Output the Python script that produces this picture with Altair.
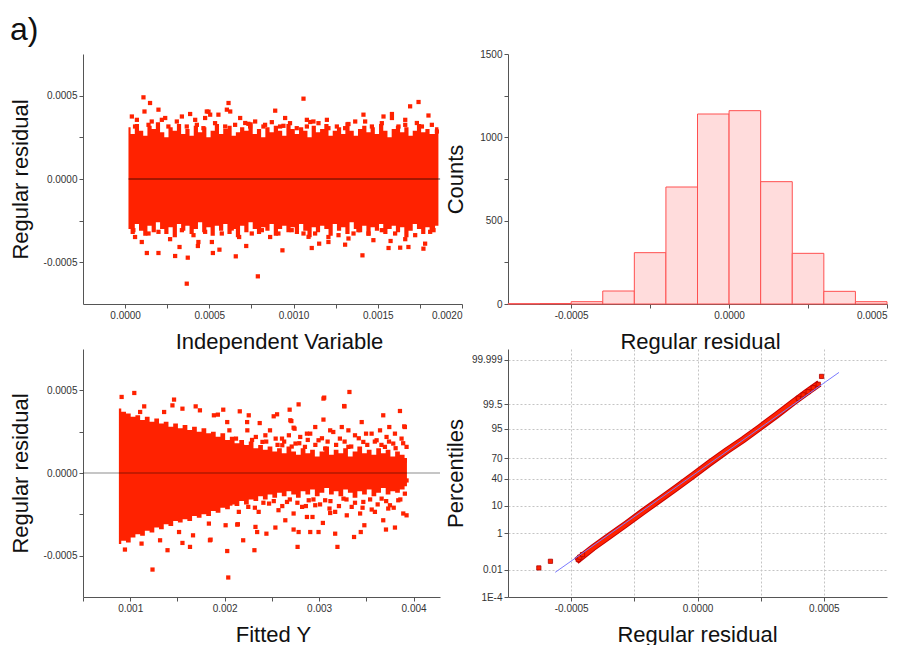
import altair as alt
import pandas as pd

RED = "#ff2200"
FONT = "Liberation Sans"

# ---------------- panel 1: residual vs independent variable ----------------
tl_core_x = [0.000020, 0.000045, 0.000070, 0.000095, 0.000120, 0.000145, 0.000170, 0.000195, 0.000220, 0.000245,
             0.000270, 0.000295, 0.000320, 0.000345, 0.000370, 0.000395, 0.000420, 0.000445, 0.000470, 0.000495,
             0.000520, 0.000545, 0.000570, 0.000595, 0.000620, 0.000645, 0.000670, 0.000695, 0.000720, 0.000745,
             0.000770, 0.000795, 0.000820, 0.000845, 0.000870, 0.000895, 0.000920, 0.000945, 0.000970, 0.000995,
             0.001020, 0.001045, 0.001070, 0.001095, 0.001120, 0.001145, 0.001170, 0.001195, 0.001220, 0.001245,
             0.001270, 0.001295, 0.001320, 0.001345, 0.001370, 0.001395, 0.001420, 0.001445, 0.001470, 0.001495,
             0.001520, 0.001545, 0.001570, 0.001595, 0.001620, 0.001645, 0.001670, 0.001695, 0.001720, 0.001745,
             0.001770, 0.001795, 0.001820, 0.001860]
tl_core_hi = [0.00031, 0.00027, 0.00033, 0.00029, 0.00026, 0.00032, 0.0003, 0.00034, 0.00028, 0.00025,
              0.00031, 0.00029, 0.00033, 0.00027, 0.0003, 0.00026, 0.00032, 0.00028, 0.00031, 0.00025,
              0.00029, 0.00033, 0.00027, 0.0003, 0.00032, 0.00026, 0.00028, 0.00031, 0.00029, 0.00034,
              0.00027, 0.0003, 0.00025, 0.00031, 0.00028, 0.00032, 0.00029, 0.00026, 0.00033, 0.0003,
              0.00027, 0.00031, 0.00029, 0.00025, 0.00032, 0.00028, 0.0003, 0.00033, 0.00026, 0.00029,
              0.00031, 0.00027, 0.00034, 0.00029, 0.00026, 0.0003, 0.00032, 0.00028, 0.00031, 0.00027,
              0.00033, 0.00029, 0.00025, 0.0003, 0.00032, 0.00028, 0.00031, 0.00026, 0.00029, 0.00033,
              0.00028, 0.0003, 0.00027, 0.00031]
tl_core_lo = [-0.0003, -0.00033, -0.00027, -0.00031, -0.00034, -0.00028, -0.00032, -0.00026, -0.0003, -0.00033,
              -0.00029, -0.00035, -0.00027, -0.00031, -0.00028, -0.00033, -0.0003, -0.00026, -0.00032, -0.00029,
              -0.00034, -0.00028, -0.00031, -0.00027, -0.00033, -0.0003, -0.00035, -0.00028, -0.00032, -0.00026,
              -0.0003, -0.00033, -0.00029, -0.00031, -0.00027, -0.00034, -0.0003, -0.00028, -0.00032, -0.00029,
              -0.00033, -0.00027, -0.00031, -0.00035, -0.00029, -0.00032, -0.00028, -0.0003, -0.00034, -0.00027,
              -0.00031, -0.00029, -0.00033, -0.00026, -0.0003, -0.00032, -0.00028, -0.00034, -0.00029, -0.00031,
              -0.00027, -0.00033, -0.0003, -0.00028, -0.00032, -0.00029, -0.00035, -0.00031, -0.00027, -0.0003,
              -0.00033, -0.00029, -0.00031, -0.00028]
tl_upper_pts = [
    (0.000109, 0.00049), (0.000148, 0.000456), (0.000115, 0.000405), (0.000198, 0.000416), (0.00004, 0.000375),
    (0.00007, 0.000355), (0.000139, 0.000325), (0.000238, 0.000366), (0.000337, 0.000375), (0.000386, 0.00039),
    (0.000416, 0.000355), (0.000485, 0.000405), (0.000505, 0.000386), (0.000475, 0.000366), (0.000614, 0.000456),
    (0.000604, 0.000416), (0.000554, 0.000386), (0.000624, 0.000405), (0.000683, 0.000366), (0.000713, 0.000336),
    (0.000891, 0.00041), (0.00095, 0.000366), (0.001059, 0.000482), (0.001099, 0.000342), (0.001198, 0.000355),
    (0.001326, 0.00033), (0.001415, 0.000386), (0.001534, 0.000375), (0.001584, 0.00039), (0.001584, 0.000366),
    (0.001663, 0.000355), (0.001692, 0.000436), (0.001742, 0.000462), (0.001732, 0.000336), (0.001801, 0.000381),
    (0.001851, 0.000285), (0.001118, 0.000345), (0.000495, 0.000404), (0.000732, 0.000331), (0.000821, 0.000315),
    (0.00094, 0.000319), (0.001079, 0.000355),
    (0.000059, 0.000315), (0.000158, 0.000345), (0.000218, 0.000355), (0.000257, 0.000315), (0.000307, 0.000345),
    (0.000366, 0.000315), (0.000426, 0.000325), (0.000465, 0.000305), (0.000534, 0.000335), (0.000594, 0.000315),
    (0.000653, 0.000325), (0.000742, 0.000315), (0.000772, 0.000345), (0.000831, 0.000325), (0.000871, 0.000341),
    (0.00092, 0.000315), (0.000979, 0.000335), (0.001019, 0.000305), (0.001079, 0.000315), (0.001148, 0.000335),
    (0.001207, 0.000305), (0.001257, 0.000315), (0.001306, 0.000305), (0.001366, 0.000345), (0.001425, 0.000345),
    (0.001465, 0.000315), (0.001524, 0.000335), (0.001623, 0.000315), (0.001663, 0.000325), (0.001762, 0.000315),
    (0.001821, 0.000325)]
tl_lower_pts = [
    (0.000129, -0.000444), (0.000198, -0.000444), (0.000297, -0.000462), (0.000372, -0.000472), (0.000366, -0.000628),
    (0.000323, -0.000408), (0.000432, -0.000402), (0.000521, -0.000444), (0.00056, -0.000424), (0.000657, -0.000464),
    (0.000719, -0.000402), (0.000788, -0.000584), (0.000934, -0.000428), (0.001108, -0.000414), (0.001152, -0.000388),
    (0.001207, -0.000378), (0.001306, -0.000394), (0.001409, -0.000458), (0.001564, -0.000414), (0.001633, -0.000412),
    (0.001682, -0.000408), (0.001771, -0.000418), (0.001781, -0.000388), (0.001576, -0.000372), (0.001474, -0.000367),
    (0.001326, -0.000357), (0.000435, -0.000378), (0.000059, -0.000348), (0.000099, -0.000378), (0.000515, -0.000378),
    (0.000267, -0.000361), (0.001059, -0.000327), (0.001207, -0.000348), (0.001356, -0.000327), (0.001663, -0.000361),
    (0.001811, -0.000317), (0.000861, -0.000348), (0.000677, -0.000348),
    (0.000049, -0.000307), (0.000139, -0.000327), (0.000198, -0.000317), (0.000337, -0.000307), (0.000406, -0.000337),
    (0.000475, -0.000317), (0.000574, -0.000327), (0.000633, -0.000297), (0.000752, -0.000327), (0.000812, -0.000307),
    (0.00091, -0.000327), (0.000989, -0.000307), (0.001089, -0.000347), (0.001128, -0.000327), (0.001267, -0.000337),
    (0.001385, -0.000307), (0.001445, -0.000327), (0.001524, -0.000307), (0.001603, -0.000327), (0.001722, -0.000337),
    (0.001831, -0.000307)]
tl_zero_span = [0.00002, 0.00187]

# ---------------- panel 2: histogram of residuals ----------------
hist_start = [-0.0007, -0.0006, -0.0005, -0.0004, -0.0003, -0.0002, -0.0001, 0.0, 0.0001, 0.0002, 0.0003, 0.0004]
hist_end = [-0.0006, -0.0005, -0.0004, -0.0003, -0.0002, -0.0001, 0.0, 0.0001, 0.0002, 0.0003, 0.0004, 0.0005]
hist_count = [2, 3, 14, 78, 308, 702, 1140, 1160, 734, 304, 76, 14]

# ---------------- panel 3: residual vs fitted Y ----------------
bl_core_x = [0.00088, 0.00093, 0.00098, 0.00103, 0.00108, 0.00113, 0.00118, 0.00123, 0.00128, 0.00133,
             0.00138, 0.00143, 0.00148, 0.00153, 0.00158, 0.00163, 0.00168, 0.00173, 0.00178, 0.00183,
             0.00188, 0.00193, 0.00198, 0.00203, 0.00208, 0.00213, 0.00218, 0.00223, 0.00228, 0.00233,
             0.00238, 0.00243, 0.00248, 0.00253, 0.00258, 0.00263, 0.00268, 0.00273, 0.00278, 0.00283,
             0.00288, 0.00293, 0.00298, 0.00303, 0.00308, 0.00313, 0.00318, 0.00323, 0.00328, 0.00333,
             0.00338, 0.00343, 0.00348, 0.00353, 0.00358, 0.00363, 0.00368, 0.00373, 0.00378, 0.00383,
             0.00388, 0.00393]
bl_core_hi = [0.00039, 0.00037, 0.00036, 0.00034, 0.00035, 0.00032, 0.00034, 0.00031, 0.00033, 0.0003,
              0.00031, 0.00028, 0.0003, 0.00027, 0.00029, 0.00026, 0.00028, 0.00025, 0.00027, 0.00024,
              0.00025, 0.00022, 0.00024, 0.0002, 0.00022, 0.00018, 0.0002, 0.00017, 0.00019, 0.00015,
              0.00017, 0.00014, 0.00016, 0.00013, 0.00015, 0.00012, 0.00016, 0.00013, 0.00011, 0.00015,
              0.00012, 0.00014, 0.0001, 0.00013, 0.00016, 0.00011, 0.00014, 0.00012, 0.00015, 0.0001,
              0.00013, 0.00016, 0.00012, 0.00014, 0.00011, 0.00015, 0.00012, 0.00014, 0.0001, 0.00013,
              0.00011, 0.00009]
bl_core_lo = [-0.00043, -0.00041, -0.00042, -0.00039, -0.00037, -0.00038, -0.00035, -0.00036, -0.00033, -0.00034,
              -0.00031, -0.00032, -0.00029, -0.0003, -0.00028, -0.00029, -0.00026, -0.00027, -0.00025, -0.00026,
              -0.00023, -0.00024, -0.00021, -0.00022, -0.00019, -0.0002, -0.00017, -0.00019, -0.00016, -0.00017,
              -0.00014, -0.00016, -0.00013, -0.00015, -0.00012, -0.00014, -0.00011, -0.00013, -0.00015, -0.00011,
              -0.00013, -0.0001, -0.00014, -0.00012, -0.00009, -0.00013, -0.00011, -0.00014, -0.0001, -0.00012,
              -0.00015, -0.00011, -0.00013, -0.0001, -0.00014, -0.00012, -0.00009, -0.00013, -0.00011, -0.00012,
              -0.0001, -0.00008]
bl_upper_pts = [
    (0.000909, 0.00046), (0.001043, 0.000484), (0.001148, 0.000403), (0.001105, 0.000369), (0.001359, 0.000369),
    (0.001464, 0.000444), (0.001553, 0.000389), (0.001693, 0.000403), (0.001738, 0.000379), (0.001886, 0.000349),
    (0.001985, 0.000383), (0.00216, 0.000373), (0.002255, 0.000349), (0.002238, 0.000308), (0.002371, 0.000302),
    (0.002519, 0.000343), (0.002555, 0.000355), (0.002688, 0.000383), (0.00273, 0.000274), (0.002783, 0.000415),
    (0.003046, 0.00045), (0.003046, 0.000323), (0.003268, 0.000403), (0.003321, 0.00049), (0.003451, 0.000308),
    (0.003679, 0.000349), (0.003856, 0.000375), (0.003908, 0.000278), (0.003645, 0.000258), (0.003054, 0.000456),
    (0.003265, 0.000405), (0.003901, 0.000282), (0.003743, 0.000278), (0.003803, 0.000238), (0.002959, 0.000278),
    (0.00324, 0.000278), (0.003117, 0.000258), (0.003497, 0.000238), (0.002706, 0.000314), (0.00274, 0.000268),
    (0.002027, 0.000308), (0.001928, 0.000353), (0.002431, 0.000228), (0.002607, 0.000208), (0.002871, 0.000238),
    (0.001447, 0.000409), (0.002695, 0.000319),
    (0.00205, 0.000258), (0.00212, 0.000208), (0.00224, 0.000258), (0.00233, 0.000218), (0.0024, 0.000188),
    (0.00248, 0.000258), (0.00254, 0.000208), (0.00261, 0.000168), (0.00268, 0.000228), (0.00275, 0.000178),
    (0.0028, 0.000218), (0.00285, 0.000158), (0.00219, 0.000158), (0.002906, 0.000238), (0.002994, 0.000198),
    (0.00315, 0.000248), (0.00322, 0.000208), (0.00331, 0.000258), (0.00338, 0.000228), (0.003468, 0.000188),
    (0.003556, 0.000238), (0.003609, 0.000198), (0.003714, 0.000218), (0.003785, 0.000178), (0.003873, 0.000208),
    (0.003926, 0.000158), (0.003064, 0.000148), (0.00331, 0.000158), (0.003697, 0.000158),
    (0.00296, 0.00017), (0.00303, 0.00021), (0.00309, 0.00019), (0.00318, 0.00017), (0.00327, 0.00019),
    (0.00334, 0.00016), (0.00342, 0.00021), (0.00351, 0.00017), (0.00359, 0.00019), (0.00366, 0.00017),
    (0.00374, 0.00019), (0.00381, 0.00015), (0.00389, 0.00018), (0.00256, 0.00017), (0.00263, 0.00019),
    (0.00271, 0.00016), (0.00279, 0.00018), (0.00288, 0.0002), (0.00244, 0.00019), (0.00229, 0.0002)]
bl_lower_pts = [
    (0.000944, -0.000463), (0.00112, -0.000427), (0.001236, -0.000584), (0.001316, -0.000407), (0.001395, -0.000467),
    (0.001553, -0.000423), (0.001633, -0.000447), (0.001844, -0.000407), (0.002027, -0.000472), (0.002038, -0.000632),
    (0.002196, -0.000407), (0.002315, -0.000467), (0.002344, -0.000357), (0.002442, -0.000367), (0.002537, -0.00033),
    (0.00273, -0.000342), (0.002772, -0.000447), (0.002906, -0.000357), (0.002994, -0.000357), (0.00304, -0.000302),
    (0.00317, -0.000367), (0.003194, -0.000447), (0.00337, -0.000387), (0.003441, -0.000357), (0.003479, -0.000316),
    (0.003679, -0.000286), (0.003708, -0.000342), (0.003803, -0.00033), (0.003891, -0.000245), (0.003926, -0.000256),
    (0.003293, -0.000256), (0.003117, -0.000242), (0.00293, -0.000266), (0.00311, -0.000215), (0.003434, -0.000245),
    (0.003557, -0.000221), (0.003732, -0.000215), (0.001665, -0.000377), (0.001851, -0.000403), (0.002133, -0.000312),
    (0.002326, -0.000326), (0.002783, -0.000357), (0.002642, -0.000286), (0.002871, -0.000266), (0.00201, -0.000316),
    (0.001517, -0.000357), (0.001833, -0.000306), (0.00214, -0.00031),
    (0.00206, -0.000185), (0.00215, -0.000235), (0.00225, -0.000205), (0.00236, -0.000235), (0.00247, -0.000185),
    (0.00257, -0.000225), (0.00266, -0.000175), (0.00273, -0.000245), (0.00282, -0.000205), (0.00289, -0.000165),
    (0.002959, -0.000195), (0.003064, -0.000165), (0.00317, -0.000235), (0.003258, -0.000155), (0.003345, -0.000205),
    (0.003468, -0.000175), (0.003591, -0.000235), (0.003662, -0.000155), (0.00375, -0.000195), (0.003838, -0.000165),
    (0.003908, -0.000125), (0.003926, -0.000045), (0.003908, 0.000075),
    (0.00294, -0.00016), (0.00301, -0.00019), (0.00312, -0.00017), (0.00321, -0.0002), (0.00329, -0.00016),
    (0.00338, -0.00018), (0.00346, -0.00021), (0.00354, -0.00016), (0.00362, -0.00019), (0.00371, -0.00017),
    (0.00379, -0.00021), (0.00386, -0.00016), (0.00252, -0.00017), (0.00261, -0.0002), (0.00269, -0.00016),
    (0.00277, -0.00018), (0.00286, -0.0002), (0.00241, -0.00018), (0.00232, -0.00021)]
bl_zero_span = [0.0005, 0.00428]

# ---------------- panel 4: normal probability plot ----------------
qq_line = [(-0.000469, -3.30), (-0.000414, -2.88), (-0.000347, -2.42), (-0.000281, -1.97),
           (-0.000216, -1.51), (-0.000149, -1.05), (-0.000083, -0.595), (-0.000017, -0.13), (0.000049, 0.345),
           (0.000115, 0.80), (0.000181, 1.23), (0.000247, 1.69), (0.000313, 2.16), (0.000379, 2.65),
           (0.000432, 3.025), (0.000471, 3.29)]
qq_end_pts = [(-0.000628, -3.648), (-0.000582, -3.396), (-0.000472, -3.33), (-0.000466, -3.24), (-0.000455, -3.14),
              (0.000399, 2.80), (0.000418, 2.93), (0.000438, 3.05), (0.000458, 3.20), (0.000478, 3.33),
              (0.000491, 3.631)]
qq_fit = [(-0.000563, -3.815), (0.00056, 3.783)]
pct_labels = ["1E-4", "0.01", "1", "10", "40", "70", "95", "99.5", "99.999"]
pct_z = [-4.7534, -3.7190, -2.3263, -1.2816, -0.2533, 0.5244, 1.6449, 2.5758, 4.2649]


# ---------------- helpers ----------------
def ax(title, values, label_expr, **kw):
    base = dict(title=title, values=values, labelExpr=label_expr, domainColor="#555", tickColor="#555",
                labelColor="#333", labelFont=FONT, labelFontSize=10, titleFont=FONT, titleFontSize=22,
                titleFontWeight="normal", titleColor="#111", tickSize=4, labelPadding=2, grid=False)
    base.update(kw)
    return alt.Axis(**base)


def lab_mult(k, fmt):
    return ("abs(datum.value*%d - round(datum.value*%d)) < 0.001 ? "
            "replace(format(datum.value, '%s'), '\u2212', '-') : ''" % (k, k, fmt))


def pts_df(*groups):
    rows = [p for g in groups for p in g]
    return pd.DataFrame(rows, columns=["x", "y"])


res_y_vals = [-0.0005, -0.00025, 0, 0.00025, 0.0005]

# ---------------- panel 1 ----------------
tl_x = alt.X("x:Q", scale=alt.Scale(domain=[-0.00025, 0.002], nice=False, zero=False),
             axis=ax("Independent Variable", [0, 0.00025, 0.0005, 0.00075, 0.001, 0.00125, 0.0015, 0.00175, 0.002],
                     lab_mult(2000, ".4f"), titleX=196, titleY=27, titleBaseline="top"))
tl_y = alt.Y("y:Q", scale=alt.Scale(domain=[-0.00075, 0.00075], nice=False, zero=False),
             axis=ax("Regular residual", res_y_vals, lab_mult(2000, ".4f"),
                     titleX=-51, titleY=125, titleBaseline="bottom"))

tl_core = alt.Chart(pd.DataFrame({"x": tl_core_x, "y": tl_core_hi, "y2": tl_core_lo})).mark_area(
    color=RED, interpolate="step").encode(x=tl_x, y=tl_y, y2="y2:Q")
tl_pts = alt.Chart(pts_df(tl_upper_pts, tl_lower_pts)).mark_square(size=18, color=RED, opacity=1).encode(x=tl_x, y=tl_y)
tl_zero = alt.Chart(pd.DataFrame({"x": [tl_zero_span[0]], "x2": [tl_zero_span[1]], "y": [0.0]})).mark_rule(
    color="#000", opacity=0.7, strokeWidth=1).encode(x=tl_x, x2="x2:Q", y=tl_y)
anchor = alt.Chart(pd.DataFrame({"t": [""]})).mark_rule(opacity=0, strokeWidth=1).encode(
    x=alt.value(-82.5), y=alt.value(-53.5), y2=alt.value(-40))
label_a = alt.Chart(pd.DataFrame({"t": ["a)"]})).mark_text(
    font=FONT, fontSize=32, color="#111", align="left", baseline="alphabetic").encode(
    x=alt.value(-73), y=alt.value(-14), text="t:N")
tl = alt.layer(tl_core, tl_pts, tl_zero, anchor, label_a).properties(width=379, height=250)

# ---------------- panel 2 ----------------
tr_x = alt.X("x:Q", scale=alt.Scale(domain=[-0.0007, 0.0005], nice=False, zero=False),
             axis=ax("Regular residual", res_y_vals, lab_mult(2000, ".4f"),
                     titleX=192, titleY=27, titleBaseline="top"))
tr_y = alt.Y("count:Q", scale=alt.Scale(domain=[0, 1500], nice=False),
             axis=ax("Counts", [0, 250, 500, 750, 1000, 1250, 1500],
                     "datum.value % 500 == 0 ? format(datum.value, 'd') : ''",
                     titleX=-41, titleY=125, titleBaseline="bottom"))
hist_df = pd.DataFrame({"x": hist_start, "x2": hist_end, "count": hist_count, "base": [0] * len(hist_count)})
tr = alt.Chart(hist_df).mark_rect(
    fill="#ffdcdc", stroke="#ff5050", strokeWidth=1).encode(
    x=tr_x, x2="x2:Q", y=tr_y, y2="base:Q").properties(width=379, height=250)

# ---------------- panel 3 ----------------
bl_x = alt.X("x:Q", scale=alt.Scale(domain=[0.0005, 0.00428], nice=False, zero=False),
             axis=ax("Fitted Y", [0.0005, 0.001, 0.0015, 0.002, 0.0025, 0.003, 0.0035, 0.004],
                     lab_mult(1000, ".3f"), titleX=190, titleY=27, titleBaseline="top"))
bl_y = alt.Y("y:Q", scale=alt.Scale(domain=[-0.00075, 0.00075], nice=False, zero=False),
             axis=ax("Regular residual", res_y_vals, lab_mult(2000, ".4f"),
                     titleX=-51, titleY=124, titleBaseline="bottom"))
bl_core = alt.Chart(pd.DataFrame({"x": bl_core_x, "y": bl_core_hi, "y2": bl_core_lo})).mark_area(
    color=RED, interpolate="step").encode(x=bl_x, y=bl_y, y2="y2:Q")
bl_pts = alt.Chart(pts_df(bl_upper_pts, bl_lower_pts)).mark_square(size=18, color=RED, opacity=1).encode(x=bl_x, y=bl_y)
bl_zero = alt.Chart(pd.DataFrame({"x": [bl_zero_span[0]], "x2": [bl_zero_span[1]], "y": [0.0]})).mark_rule(
    color="#000", opacity=0.45, strokeWidth=1).encode(x=bl_x, x2="x2:Q", y=bl_y)
bl = alt.layer(bl_core, bl_pts, bl_zero).properties(width=357, height=248)

# ---------------- panel 4 ----------------
pct_expr = "''"
for z, lab in zip(pct_z, pct_labels):
    pct_expr = "abs(datum.value - (%s)) < 0.01 ? '%s' : (%s)" % (z, lab, pct_expr)

grid_kw = dict(grid=True, gridDash=[2, 2], gridColor="#c4c4c4", gridWidth=1)
br_x = alt.X("x:Q", scale=alt.Scale(domain=[-0.00075, 0.00075], nice=False, zero=False),
             axis=ax("Regular residual", res_y_vals, lab_mult(2000, ".4f"),
                     titleX=189, titleY=27, titleBaseline="top", **grid_kw))
br_y = alt.Y("z:Q", scale=alt.Scale(domain=[-4.7534, 4.673], nice=False, zero=False),
             axis=ax("Percentiles", pct_z, pct_expr, titleX=-40.5, titleY=124, titleBaseline="bottom", **grid_kw))

qq_line_df = pd.DataFrame(qq_line, columns=["x", "z"])
qq_dark = alt.Chart(qq_line_df).mark_line(color="#c80000", strokeWidth=7, strokeCap="square").encode(x=br_x, y=br_y)
qq_red = alt.Chart(qq_line_df).mark_line(color=RED, strokeWidth=5, strokeCap="square").encode(x=br_x, y=br_y)
qq_pts = alt.Chart(pd.DataFrame(qq_end_pts, columns=["x", "z"])).mark_square(
    size=18, color=RED, stroke="#b00000", strokeWidth=0.8, opacity=1).encode(x=br_x, y=br_y)
qq_fit_line = alt.Chart(pd.DataFrame(qq_fit, columns=["x", "z"])).mark_line(
    color="#7b7bff", strokeWidth=1).encode(x=br_x, y=br_y)
br = alt.layer(qq_dark, qq_red, qq_pts, qq_fit_line).properties(width=379, height=248)

# ---------------- layout ----------------
chart = alt.concat(tl, tr, bl, br, columns=2, spacing={"row": 45, "column": 46}, bounds="flush").properties(
    padding={"left": 0, "top": 0, "right": 0, "bottom": 0}, background="white"
).resolve_scale(x="independent", y="independent").configure_view(stroke=None)

chart.save("out.html", embed_options={"renderer": "svg", "actions": False})
